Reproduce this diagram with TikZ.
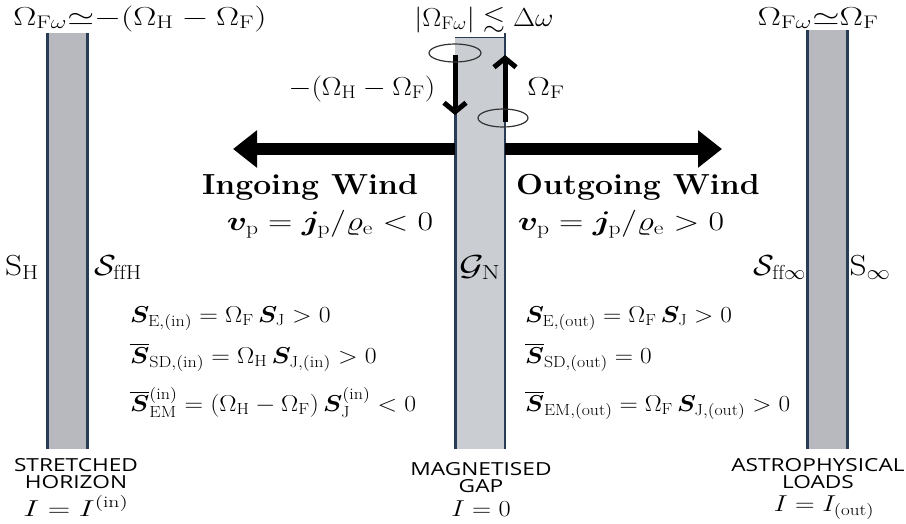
\RequirePackage{fix-cm}
\documentclass[tikz,border=0pt]{standalone}
\usepackage{amsmath,amssymb,bm}
\usepackage{graphicx}
\usepackage{fontspec}
\usepackage{tikz}
\usetikzlibrary{arrows.meta}
\newfontfamily\capfont{Open Sans}
\newcommand{\stretchx}[2]{\scalebox{#1}[1]{#2}}
\definecolor{barfill}{RGB}{184,185,190}
\definecolor{gapfill}{RGB}{202,205,210}
\definecolor{baredge}{RGB}{40,60,85}
\tikzset{
  edge/.style={baredge, line width=3pt},
  topmath/.style={font=\fontsize{26}{30}\selectfont, anchor=base, inner sep=0pt},
  sidemath/.style={font=\fontsize{29}{32}\selectfont, anchor=base, inner sep=0pt},
  eqn/.style={font=\fontsize{23}{26}\selectfont, anchor=base west, inner sep=0pt},
  wind/.style={font=\fontsize{29}{32}\selectfont\bfseries, anchor=base, inner sep=0pt},
  vel/.style={font=\fontsize{27}{30}\selectfont, anchor=base, inner sep=0pt},
  caplbl/.style={font=\fontsize{18}{17}\selectfont\capfont, align=center, anchor=base, inner sep=0pt},
  current/.style={font=\fontsize{23}{26}\selectfont, anchor=base, inner sep=0pt},
  bigarrow/.style={line width=12pt, -{Triangle[length=24pt 0 0, width=36pt 0 0]}},
  spinarrow/.style={line width=5pt, -{Straight Barb[length=9pt 0 0, width=22pt 0 0, line width=5pt]}},
  spin/.style={line width=1.2pt, black!80}
}
\begin{document}
\begin{tikzpicture}[x=1pt, y=-1pt]
  \useasboundingbox (0,0) rectangle (906,523);

  % 竖条参数
  \def\gl{455}  % 中间竖条左边
  \def\gr{505}  % 中间竖条右边

  % 左条: 拉伸视界
  \fill[barfill] (47,33) rectangle (87,449);
  \draw[edge] (47,33) -- (47,449);
  \draw[edge] (87,33) -- (87,449);

  % 右条: 负载
  \fill[barfill] (807,30) rectangle (847,449);
  \draw[edge] (807,30) -- (807,449);
  \draw[edge] (847,30) -- (847,449);

  % 中间条: 间隙
  \fill[gapfill] (\gl,37) rectangle (\gr,449);
  \draw[baredge, line width=0.6pt] (\gl,37) -- (\gr,37);
  \draw[edge] (\gl,110) -- (\gl,449);
  \draw[baredge, line width=2pt] (\gr,33) -- (\gr,449);

  % 水平箭头
  \coordinate (gapin) at (\gl,149);
  \coordinate (gapout) at (\gr,149);
  \coordinate (inend) at (233,149);
  \coordinate (outend) at (722,149);
  \draw[bigarrow] (gapin) -- (inend);
  \draw[bigarrow] (gapout) -- (outend);

  % 旋转箭头与圆环
  \coordinate (downtop) at (\gl,55);
  \coordinate (downtip) at (\gl,115);
  \coordinate (upbot) at (\gr,122);
  \coordinate (uptip) at (\gr,55);
  \draw[spinarrow] (downtop) -- (downtip);
  \draw[spinarrow] (upbot) -- (uptip);
  \draw[spin] (455,53) ellipse (26 and 9);
  \draw[spin] (503,118) ellipse (25 and 9);

  % 顶部标签
  \node[topmath] (omegaH) at (140,25) {\stretchx{1.33}{$\Omega_{\mathrm{F}\omega}{\simeq}{-}(\Omega_{\mathrm{H}} - \Omega_{\mathrm{F}})$}};
  \node[topmath] (omegaN) at (484,26) {\stretchx{1.1}{$|\Omega_{\mathrm{F}\omega}| \lesssim \Delta\omega$}};
  \node[topmath] (omegaL) at (818,25) {\stretchx{1.35}{$\Omega_{\mathrm{F}\omega}{\simeq}\Omega_{\mathrm{F}}$}};
  \node[topmath] (spinin) at (362,95) {\stretchx{1.13}{$-(\Omega_{\mathrm{H}} - \Omega_{\mathrm{F}})$}};
  \node[topmath] (spinout) at (546,95) {\stretchx{1.3}{$\Omega_{\mathrm{F}}$}};

  % 风
  \node[wind] (inwind) at (310,194) {\stretchx{1.1}{Ingoing Wind}};
  \node[wind] (outwind) at (638,194) {\stretchx{1.1}{Outgoing Wind}};
  \node[vel] (invel) at (330,230) {\stretchx{1.25}{$\bm{v}_{\mathrm{p}} = \bm{j}_{\mathrm{p}}/\varrho_{\mathrm{e}} < 0$}};
  \node[vel] (outvel) at (621,230) {\stretchx{1.25}{$\bm{v}_{\mathrm{p}} = \bm{j}_{\mathrm{p}}/\varrho_{\mathrm{e}} > 0$}};

  % 表面
  \node[sidemath] (SH) at (22,275) {\stretchx{1.15}{$\mathrm{S}_{\mathrm{H}}$}};
  \node[sidemath] (SffH) at (118,275) {\stretchx{1.1}{$\mathcal{S}_{\mathrm{ffH}}$}};
  \node[sidemath] (GN) at (480,275) {\stretchx{1.3}{$\mathcal{G}_{\mathrm{N}}$}};
  \node[sidemath] (Sffinf) at (780,275) {\stretchx{1.05}{$\mathcal{S}_{\mathrm{ff}\infty}$}};
  \node[sidemath] (Sinf) at (870,275) {\stretchx{1.15}{$\mathrm{S}_{\infty}$}};

  % 左侧方程
  \node[eqn] (ineq1) at (130,322) {\stretchx{1.12}{$\bm{S}_{\mathrm{E,(in)}} = \Omega_{\mathrm{F}}\, \bm{S}_{\mathrm{J}} > 0$}};
  \node[eqn] (ineq2) at (130,363) {\stretchx{1.12}{$\overline{\bm{S}}_{\mathrm{SD,(in)}} = \Omega_{\mathrm{H}}\, \bm{S}_{\mathrm{J,(in)}} > 0$}};
  \node[eqn] (ineq3) at (130,411) {\stretchx{1.12}{$\overline{\bm{S}}{}^{\mathrm{(in)}}_{\mathrm{EM}} = (\Omega_{\mathrm{H}} - \Omega_{\mathrm{F}})\, \bm{S}^{\mathrm{(in)}}_{\mathrm{J}} < 0$}};

  % 右侧方程
  \node[eqn] (outeq1) at (525,322) {\stretchx{1.1}{$\bm{S}_{\mathrm{E,(out)}} = \Omega_{\mathrm{F}}\, \bm{S}_{\mathrm{J}} > 0$}};
  \node[eqn] (outeq2) at (525,363) {\stretchx{1.1}{$\overline{\bm{S}}_{\mathrm{SD,(out)}} = 0$}};
  \node[eqn] (outeq3) at (525,411) {\stretchx{1.1}{$\overline{\bm{S}}_{\mathrm{EM,(out)}} = \Omega_{\mathrm{F}}\, \bm{S}_{\mathrm{J,(out)}} > 0$}};

  % 底部说明
  \node[caplbl] (horizon) at (76,488) {\stretchx{1.26}{STRETCHED}\\\stretchx{1.26}{HORIZON}};
  \node[caplbl] (gap) at (481,492) {\stretchx{1.26}{MAGNETISED}\\\stretchx{1.26}{GAP}};
  \node[caplbl] (loads) at (818,488) {\stretchx{1.26}{ASTROPHYSICAL}\\\stretchx{1.26}{LOADS}};
  \node[current] (Ihorizon) at (76,516) {\stretchx{1.35}{$I = I^{\mathrm{(in)}}$}};
  \node[current] (Igap) at (481,516) {\stretchx{1.15}{$I = 0$}};
  \node[current] (Iloads) at (824,511) {\stretchx{1.18}{$I = I_{\mathrm{(out)}}$}};
\end{tikzpicture}
\end{document}
